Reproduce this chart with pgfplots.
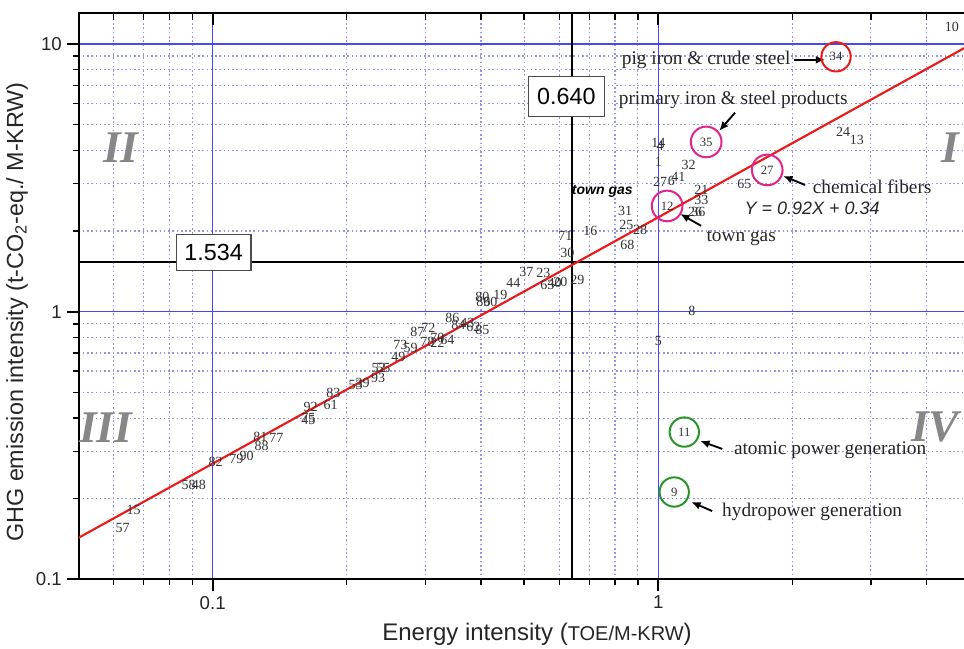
\documentclass[border=0pt]{standalone}
\usepackage{fontspec}
\setmainfont{Liberation Serif}
\setsansfont{Liberation Sans}
\usepackage{pgfplots}
\usepackage{pgfplotstable}
\pgfplotsset{compat=1.18}
\usetikzlibrary{arrows.meta}

\definecolor{majgrid}{RGB}{70,70,250}
\definecolor{mingrid}{RGB}{150,150,230}
\definecolor{fitred}{RGB}{235,25,25}
\definecolor{circmag}{RGB}{225,35,140}
\definecolor{circgreen}{RGB}{40,150,40}
\definecolor{quadgray}{RGB}{135,135,135}
\definecolor{ptlabel}{RGB}{50,50,50}

% sector labels placed at (energy intensity, GHG intensity)
\pgfplotstableread{
x y label
0.0628 0.1556 57
0.0665 0.1816 15
0.0883 0.2253 58
0.0931 0.2253 48
0.1016 0.274 82
0.113 0.282 79
0.1192 0.289 90
0.128 0.340 81
0.1288 0.315 88
0.139 0.3375 77
0.164 0.394 45
0.164 0.401 75
0.166 0.4406 92
0.184 0.448 61
0.1867 0.497 83
0.2092 0.532 53
0.217 0.5417 39
0.235 0.565 93
0.2356 0.6163 52
0.2417 0.6163 55
0.261 0.675 49
0.2638 0.751 73
0.278 0.73 59
0.288 0.837 87
0.305 0.866 72
0.3034 0.771 78
0.3195 0.80 70
0.3195 0.764 22
0.3365 0.784 64
0.345 0.947 86
0.356 0.892 84
0.373 0.907 43
0.3847 0.877 62
0.403 0.854 85
0.403 1.135 80
0.405 1.087 89
0.42 1.087 60
0.442 1.154 19
0.473 1.280 44
0.506 1.407 37
0.552 1.395 23
0.5637 1.258 63
0.585 1.28 40
0.603 1.291 20
0.658 1.314 29
0.625 1.66 30
0.619 1.92 71
0.704 2.00 16
0.852 1.77 68
0.848 2.11 25
0.911 2.02 28
0.843 2.38 31
1.21 2.36 26
1.23 2.36 36
1.25 2.61 33
1.25 2.85 21
1.56 3.00 65
1.01 3.05 27
1.07 3.08 6
1.11 3.19 41
1.17 3.53 32
1.0 3.63 1
1.0 4.27 14
1.01 4.15 4
2.60 4.69 24
2.79 4.38 13
4.56 11.57 10
1.19 1.01 8
1.0 0.777 5
}\pointtab

\pgfplotstableread{
x y label
2.506 8.94 34
}\redtab

\pgfplotstableread{
x y label
1.281 4.30 35
1.756 3.38 27
1.047 2.48 12
}\magtab

\pgfplotstableread{
x y label
1.144 0.355 11
1.086 0.212 9
}\greentab

\begin{document}
\begin{tikzpicture}
\useasboundingbox (-58.9pt,-52.2pt) rectangle (664.1pt,434.55pt);
\begin{axis}[
  at={(0,0)},anchor=south west,
  scale only axis,width=668.4pt,height=424.6pt,
  xmode=log,ymode=log,
  xmin=0.05,xmax=5,ymin=0.1,ymax=13,
  xtick={0.1,1},xticklabels={0.1,1},
  ytick={0.1,1,10},yticklabels={0.1,1,10},
  minor xtick={0.06,0.07,0.08,0.09,0.2,0.3,0.4,0.5,0.6,0.7,0.8,0.9,2,3,4},
  minor ytick={0.2,0.3,0.4,0.5,0.6,0.7,0.8,0.9,2,3,4,5,6,7,8,9},
  xtick pos=left,ytick pos=left,tick align=outside,
  major tick length=9pt,minor tick length=4.5pt,
  major tick style={black,line width=1.4pt},
  minor tick style={black,line width=1pt},
  axis line style={black,line width=1.5pt},
  grid=both,
  major grid style={majgrid,line width=1.1pt},
  minor grid style={mingrid,line width=0.9pt,dash pattern=on 1.2pt off 2pt},
  tick label style={font=\sffamily\fontsize{14}{14}\selectfont,text=black!85},
  xlabel={Energy intensity ({\fontsize{15}{15}\selectfont TOE/M-KRW})},
  ylabel={GHG emission intensity (t-CO\textsubscript{2}-eq./ M-KRW)},
  xlabel style={at={(axis description cs:0.5145,-0.0964)},anchor=center,font=\sffamily\fontsize{18}{18}\selectfont,text=black!85},
  ylabel style={at={(axis description cs:-0.069,0.4723)},anchor=center,font=\sffamily\fontsize{17.5}{17.5}\selectfont,text=black!85},
]
  \addplot[black,line width=1.5pt] coordinates {(0.64,0.1) (0.64,13)};
  \addplot[black,line width=1.5pt] coordinates {(0.05,1.534) (5,1.534)};
  \addplot[fitred,line width=1.6pt] coordinates {(0.05,0.143) (5,9.89)};

  \addplot[draw=none,mark=none,nodes near coords,point meta=explicit symbolic,
    nodes near coords style={anchor=center,inner sep=0pt,font=\fontsize{10.5}{10.5}\selectfont,text=ptlabel}]
    table[x=x,y=y,meta=label]{\pointtab};

  \addplot[only marks,mark=o,mark size=11pt,mark options={draw=fitred,line width=1.5pt},
    nodes near coords,point meta=explicit symbolic,
    nodes near coords style={anchor=center,inner sep=0pt,font=\fontsize{9.5}{9.5}\selectfont,text=ptlabel}]
    table[x=x,y=y,meta=label]{\redtab};
  \addplot[only marks,mark=o,mark size=11.5pt,mark options={draw=circmag,line width=1.5pt},
    nodes near coords,point meta=explicit symbolic,
    nodes near coords style={anchor=center,inner sep=0pt,font=\fontsize{9.5}{9.5}\selectfont,text=ptlabel}]
    table[x=x,y=y,meta=label]{\magtab};
  \addplot[only marks,mark=o,mark size=11pt,mark options={draw=circgreen,line width=1.5pt},
    nodes near coords,point meta=explicit symbolic,
    nodes near coords style={anchor=center,inner sep=0pt,font=\fontsize{9.5}{9.5}\selectfont,text=ptlabel}]
    table[x=x,y=y,meta=label]{\greentab};

  % reference values
  \node[draw=black!70,fill=white,line width=0.8pt,minimum width=57pt,minimum height=30pt,
    font=\sffamily\fontsize{17.5}{17.5}\selectfont] at (axis cs:0.622,6.34) {0.640};
  \node[draw=black!70,fill=white,line width=0.8pt,minimum width=56pt,minimum height=27pt,
    font=\sffamily\fontsize{17.5}{17.5}\selectfont] at (axis cs:0.1005,1.664) {1.534};

  % quadrants
  \node[font=\bfseries\itshape\fontsize{34}{34}\selectfont,text=quadgray] at (axis cs:0.0622,4.09) {II};
  \node[font=\bfseries\itshape\fontsize{34}{34}\selectfont,text=quadgray] at (axis cs:0.0575,0.368) {III};
  \node[font=\bfseries\itshape\fontsize{34}{34}\selectfont,text=quadgray] at (axis cs:4.52,4.09) {I};
  \node[font=\bfseries\itshape\fontsize{34}{34}\selectfont,text=quadgray] at (axis cs:4.18,0.371) {IV};

  % annotations
  \tikzset{ann/.style={font=\fontsize{14.5}{14.5}\selectfont,text=black!85},
           arr/.style={-{Latex[length=7pt,width=6pt]},line width=1.4pt,black}}
  \node[ann] at (axis cs:1.281,8.71) {pig iron \& crude steel};
  \draw[arr] (axis cs:2.018,8.71) -- (axis cs:2.368,8.71);
  \node[ann] at (axis cs:1.473,6.18) {primary iron \& steel products};
  \draw[arr] (axis cs:1.487,5.53) -- (axis cs:1.37,4.73);
  \node[ann] at (axis cs:3.02,2.92) {chemical fibers};
  \draw[arr] (axis cs:2.136,2.97) -- (axis cs:1.907,3.21);
  \node[ann] at (axis cs:1.535,1.885) {town gas};
  \draw[arr] (axis cs:1.248,2.09) -- (axis cs:1.12,2.317);
  \node[font=\sffamily\bfseries\itshape\fontsize{10.5}{10.5}\selectfont] at (axis cs:0.749,2.80) {town gas};
  \node[font=\sffamily\itshape\fontsize{13.5}{13.5}\selectfont,text=black!85] at (axis cs:2.215,2.42) {Y = 0.92X + 0.34};
  \node[ann] at (axis cs:2.43,0.304) {atomic power generation};
  \draw[arr] (axis cs:1.392,0.307) -- (axis cs:1.242,0.329);
  \node[ann] at (axis cs:2.215,0.1786) {hydropower generation};
  \draw[arr] (axis cs:1.321,0.180) -- (axis cs:1.186,0.1946);
\end{axis}
% top axis ticks point inward
\begin{axis}[
  at={(0,0)},anchor=south west,
  scale only axis,width=668.4pt,height=424.6pt,
  xmode=log,ymode=log,
  xmin=0.05,xmax=5,ymin=0.1,ymax=13,
  axis x line*=top,axis y line=none,
  xtick={0.1,1},xticklabels={},
  minor xtick={0.06,0.07,0.08,0.09,0.2,0.3,0.4,0.5,0.6,0.7,0.8,0.9,2,3,4},
  tick align=inside,
  major tick length=9pt,minor tick length=5pt,
  major tick style={black,line width=1.4pt},
  minor tick style={black,line width=1pt},
  axis line style={black,line width=1.5pt},
]
\end{axis}
\end{tikzpicture}
\end{document}
